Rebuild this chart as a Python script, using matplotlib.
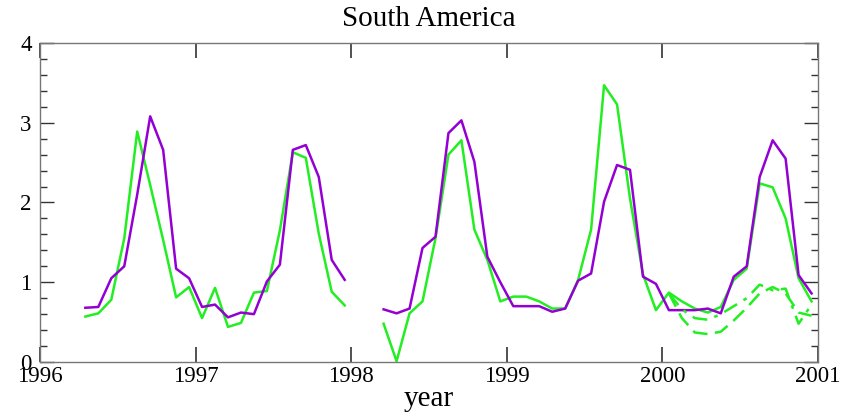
import numpy as np
import matplotlib
matplotlib.use("Agg")
import matplotlib.pyplot as plt
from matplotlib.ticker import MultipleLocator

# ===== Data (monthly, Apr 1996 - Dec 2000) =====
nan = np.nan
start_year = 1996
start_month = 4  # April

green = [0.57, 0.61, 0.78, 1.55, 2.89, 2.22, 1.53, 0.81, 0.94,
         0.55, 0.93, 0.44, 0.49, 0.87, 0.89, 1.65, 2.63, 2.56, 1.61, 0.88, 0.71,
         nan, nan, 0.48, 0.01, 0.61, 0.76, 1.55, 2.60, 2.78, 1.66, 1.28, 0.76,
         0.82, 0.82, 0.76, 0.67, 0.67, 1.03, 1.66, 3.47, 3.23, 2.05, 1.10, 0.65,
         0.87, 0.76, 0.67, 0.62, 0.69, 1.03, 1.17, 2.24, 2.19, 1.80, 1.05, 0.76]

purple = [0.68, 0.69, 1.05, 1.20, 2.10, 3.08, 2.66, 1.17, 1.05,
          0.69, 0.72, 0.56, 0.62, 0.60, 1.01, 1.22, 2.66, 2.72, 2.32, 1.28, 1.03,
          nan, nan, 0.66, 0.61, 0.67, 1.43, 1.57, 2.87, 3.03, 2.51, 1.32, 1.00,
          0.70, 0.70, 0.70, 0.63, 0.67, 1.02, 1.11, 2.01, 2.47, 2.41, 1.07, 0.98,
          0.65, 0.65, 0.65, 0.67, 0.61, 1.07, 1.20, 2.32, 2.78, 2.55, 1.09, 0.86]

# 2000 only
green_dashdot = [0.86, 0.66, 0.55, 0.53, 0.60, 0.70, 0.80, 0.97, 0.90, 0.92, 0.48, 0.72]
green_dashed = [0.86, 0.55, 0.37, 0.35, 0.38, 0.52, 0.68, 0.86, 0.94, 0.86, 0.62, 0.58]

months = np.arange(len(green)) + (start_month - 1)
x = start_year + (months + 0.5) / 12.0
x2000 = 2000 + (np.arange(12) + 0.5) / 12.0

GREEN = "#22ee22"
PURPLE = "#9400d3"

plt.rcParams["font.family"] = ["Liberation Serif", "DejaVu Serif"]

fig = plt.figure(figsize=(8.63, 4.17), dpi=100)
ax = fig.add_axes([0.0463, 0.1319, 0.9016, 0.765])

ax.plot(x, green, color=GREEN, lw=1.8)
ax.plot(x, purple, color=PURPLE, lw=1.8)
ax.plot(x2000, green_dashdot, color=GREEN, lw=1.8, linestyle=(0, (6, 3, 1.5, 3)))
ax.plot(x2000, green_dashed, color=GREEN, lw=1.8, linestyle=(0, (6, 3)))

ax.set_xlim(1996, 2001)
ax.set_ylim(0, 4)
ax.xaxis.set_major_locator(MultipleLocator(1))
ax.yaxis.set_major_locator(MultipleLocator(1))
ax.yaxis.set_minor_locator(MultipleLocator(0.2))

ax.tick_params(which="both", direction="in", top=True, right=True, labelsize=16.5, color="#333333")
ax.tick_params(axis="x", which="major", length=11, width=1.2, pad=3)
ax.tick_params(axis="y", which="major", length=10, width=1.0, pad=6)
ax.tick_params(axis="y", which="minor", length=5, width=1.0)
for s in ax.spines.values():
    s.set_color("#777777")
    s.set_linewidth(1.0)

ax.set_title("South America", fontsize=21, pad=12)
ax.set_xlabel("year", fontsize=21, labelpad=-1)

fig.savefig("out.png", dpi=100)
